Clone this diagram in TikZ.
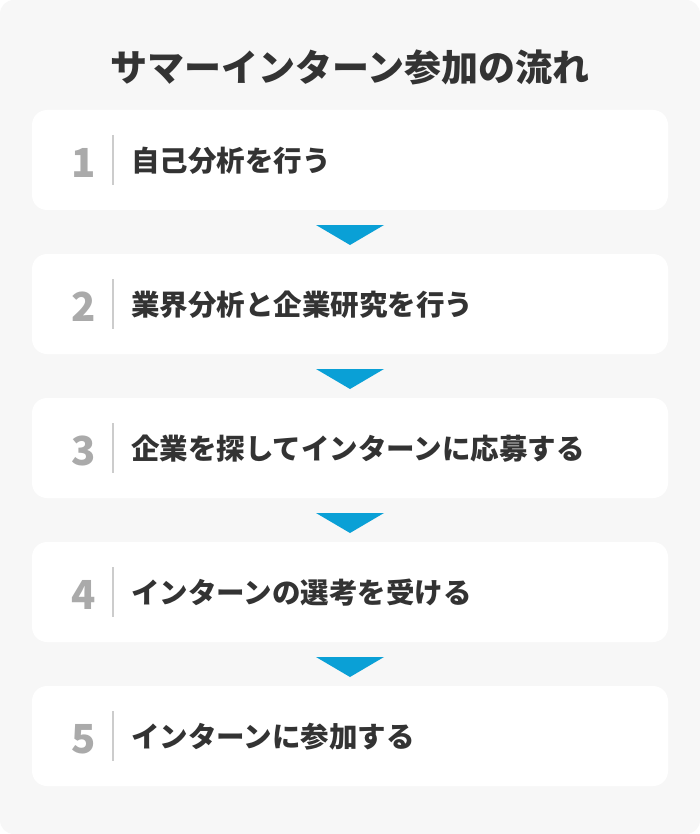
\documentclass[tikz,border=0pt]{standalone}
\usepackage{fontspec}
\newfontfamily\jp{Noto Sans CJK JP}
\definecolor{bggray}{HTML}{F7F7F7}
\definecolor{txtdark}{HTML}{333333}
\definecolor{numgray}{HTML}{AAAAAA}
\definecolor{sepgray}{HTML}{CCCCCC}
\definecolor{triblue}{HTML}{0AA0D6}
\tikzset{
  titletext/.style={font=\jp\bfseries\fontsize{37}{41}\selectfont, text=txtdark, inner sep=0pt},
  stepbox/.style={fill=white, rounded corners=15pt, minimum width=636pt, minimum height=100pt, inner sep=0pt},
  numtext/.style={font=\jp\bfseries\fontsize{40}{44}\selectfont, text=numgray, inner sep=0pt},
  steptext/.style={font=\jp\bfseries\fontsize{28.5}{32}\selectfont, text=txtdark, inner sep=0pt, anchor=west},
  sepline/.style={draw=sepgray, line width=1.5pt},
  tri/.style={fill=triblue}
}
\begin{document}
\begin{tikzpicture}[x=1pt,y=-1pt]
\useasboundingbox (0,0) rectangle (700,834);
\fill[white] (0,0) rectangle (700,834);
\fill[bggray, rounded corners=14pt] (0,0) rectangle (700,834);
\node[titletext] (title) at (350,67) {サマーインターン参加の流れ};
\foreach \i/\t in {1/自己分析を行う, 2/業界分析と企業研究を行う, 3/企業を探してインターンに応募する, 4/インターンの選考を受ける, 5/インターンに参加する}{
  \pgfmathsetmacro{\yt}{110+144*(\i-1)}
  \node[stepbox] (b\i) at (350,\yt+50) {};
  \node[numtext] (n\i) at (84,\yt+53) {\i};
  \coordinate (sa\i) at (113,\yt+25);
  \coordinate (sb\i) at (113,\yt+75);
  \draw[sepline] (sa\i) -- (sb\i);
  \node[steptext] (t\i) at (131,\yt+51) {\t};
}
\foreach \i in {1,2,3,4}{
  \pgfmathsetmacro{\yt}{110+144*(\i-1)}
  \coordinate (tl\i) at (316,\yt+115);
  \coordinate (tr\i) at (384,\yt+115);
  \coordinate (tb\i) at (350,\yt+135);
  \fill[tri] (tl\i) -- (tr\i) -- (tb\i) -- cycle;
}
\end{tikzpicture}
\end{document}
